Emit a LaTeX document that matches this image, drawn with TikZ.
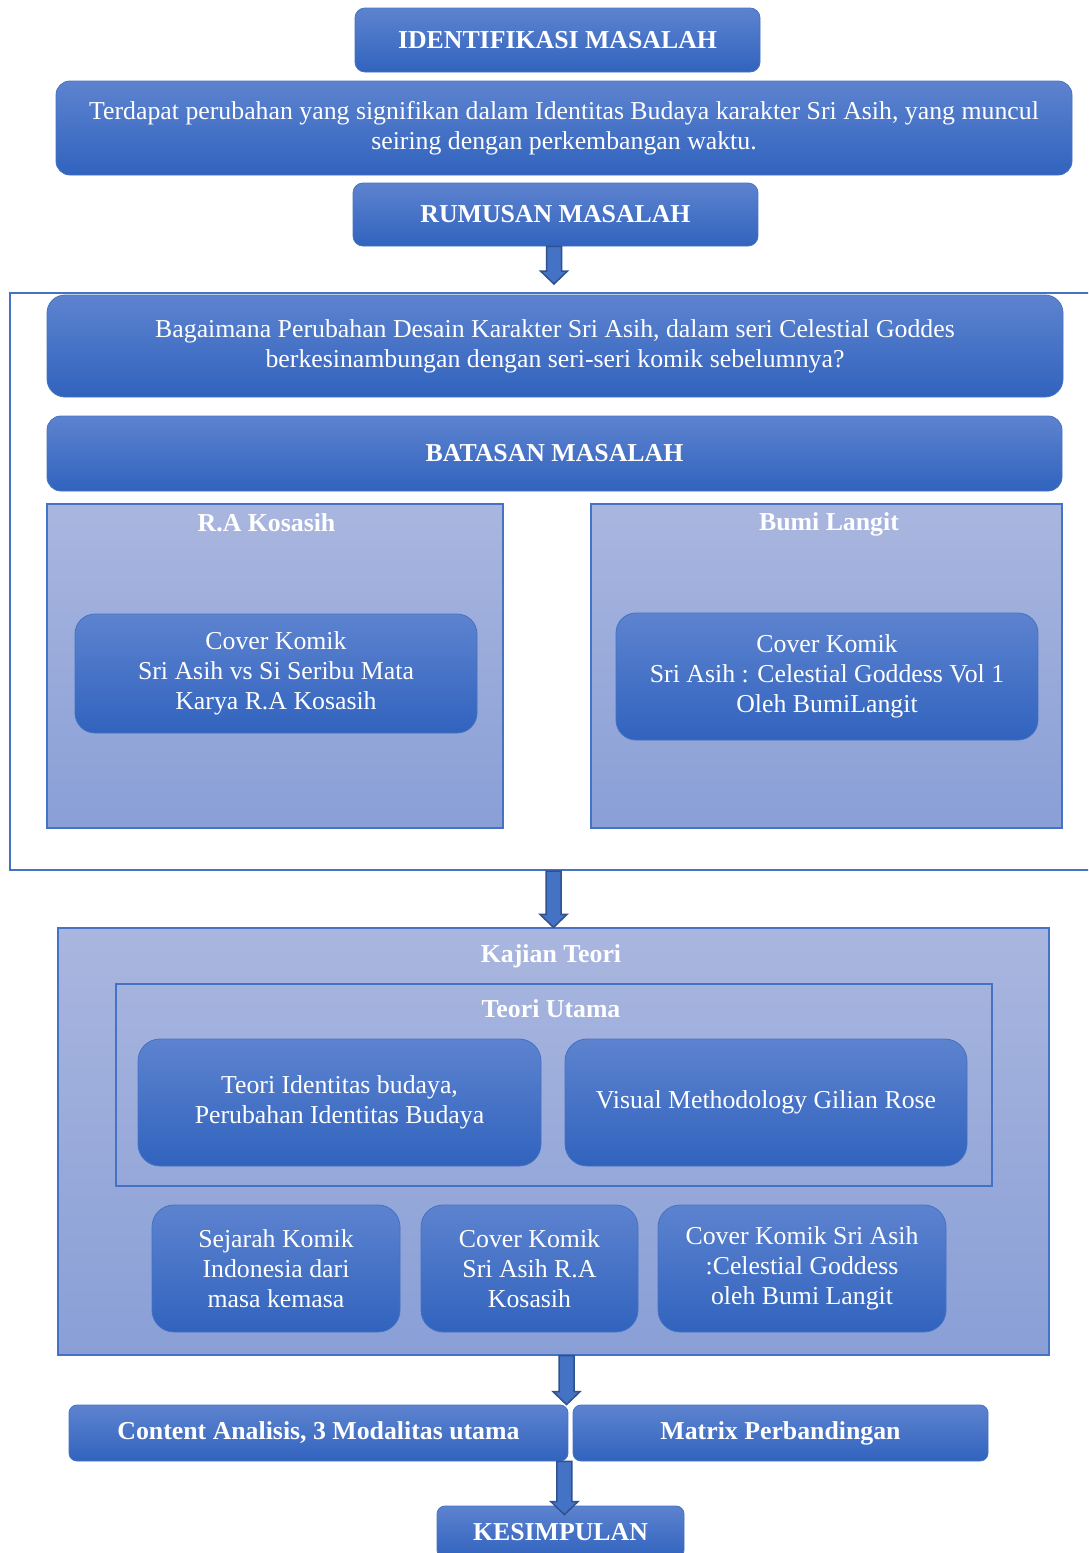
\documentclass[tikz,border=0pt]{standalone}
\usepackage{fontspec}
\setmainfont{Liberation Serif}
\usetikzlibrary{calc}
\definecolor{btop}{RGB}{93,131,207}
\definecolor{bbot}{RGB}{49,99,190}
\definecolor{bline}{RGB}{68,114,196}
\definecolor{ptop}{RGB}{169,182,223}
\definecolor{pbot}{RGB}{137,159,214}
\definecolor{afill}{RGB}{68,114,196}
\definecolor{aline}{RGB}{47,82,143}
\tikzset{
  txt/.style={font=\fontsize{25.8}{30}\selectfont, text=white, align=center},
  bx/.style={txt, rounded corners=#1, top color=btop, bottom color=bbot, draw=bline, line width=0.8pt, inner sep=0pt},
  bx/.default=14pt,
  hd/.style={font=\fontsize{25.8}{30}\selectfont\bfseries},
  panel/.style={top color=ptop, bottom color=pbot, draw=bline, line width=1.2pt, inner sep=0pt},
  ttl/.style={font=\fontsize{25.8}{30}\selectfont\bfseries, text=white},
  frm/.style={draw=bline, line width=2pt, inner sep=0pt},
  barrow/.style={fill=afill, draw=aline, line width=1.5pt, line join=miter},
}
\newcommand\blockarrow[2]{%
  \draw[barrow] let \p1=(#1), \p2=(#2) in
    (\x1-7.5pt,\y1) -- (\x1+7.5pt,\y1) -- (\x1+7.5pt,\y2+13pt) -- (\x1+13.5pt,\y2+13pt)
    -- (\x1,\y2) -- (\x1-13.5pt,\y2+13pt) -- (\x1-7.5pt,\y2+13pt) -- cycle;}
\begin{document}
\begin{tikzpicture}[x=1pt,y=-1pt]
\path[use as bounding box, clip] (0,0) rectangle (1088,1553);
\fill[white] (0,0) rectangle (1088,1553);

\node[bx=10pt, hd, minimum width=405, minimum height=64] (idm) at (557.5,40) {IDENTIFIKASI MASALAH};
\node[bx, minimum width=1016, minimum height=94] (ter) at (564,128)
  {Terdapat perubahan yang signifikan dalam Identitas Budaya karakter Sri Asih, yang muncul\\seiring dengan perkembangan waktu.};
\node[bx=10pt, hd, minimum width=405, minimum height=63] (rum) at (555.5,214.5) {RUMUSAN MASALAH};

\node[frm, fill=white, minimum width=1090, minimum height=577] (frame) at (555,581.5) {};
\node[bx=18pt, minimum width=1016, minimum height=102] (bag) at (555,346)
  {Bagaimana Perubahan Desain Karakter Sri Asih, dalam seri Celestial Goddes\\berkesinambungan dengan seri-seri komik sebelumnya?};
\node[bx=14pt, hd, minimum width=1015, minimum height=75] (bat) at (554.5,453.5) {BATASAN MASALAH};

\node[panel, minimum width=456, minimum height=324] (pl) at (275,666) {};
\node[ttl] (plt) at (266.5,523) {R.A Kosasih};
\node[bx=20pt, minimum width=402, minimum height=119] (pli) at (276,673.5)
  {Cover Komik\\Sri Asih vs Si Seribu Mata\\Karya R.A Kosasih};
\node[panel, minimum width=471, minimum height=324] (pr) at (826.5,666) {};
\node[ttl] (prt) at (829,524) {Bumi Langit};
\node[bx=20pt, minimum width=422, minimum height=127] (pri) at (827,676.5)
  {Cover Komik\\Sri Asih : Celestial Goddess Vol 1\\Oleh BumiLangit};

\node[panel, minimum width=991, minimum height=427] (kaj) at (553.5,1141.5) {};
\node[ttl] (kajt) at (551,956) {Kajian Teori};
\node[frm, minimum width=876, minimum height=202] (utm) at (554,1085) {};
\node[ttl] (utmt) at (551,1009) {Teori Utama};
\node[bx=22pt, minimum width=403, minimum height=127] (tid) at (339.5,1102.5)
  {Teori Identitas budaya,\\Perubahan Identitas Budaya};
\node[bx=22pt, minimum width=402, minimum height=127] (vis) at (766,1102.5)
  {Visual Methodology Gilian Rose};
\node[bx=22pt, minimum width=248, minimum height=127] (sej) at (276,1268.5)
  {Sejarah Komik\\Indonesia dari\\masa kemasa};
\node[bx=22pt, minimum width=217, minimum height=127] (cra) at (529.5,1268.5)
  {Cover Komik\\Sri Asih R.A\\Kosasih};
\node[bx=22pt, minimum width=288, minimum height=127] (ccg) at (802,1268.5)
  {Cover Komik Sri Asih\\:Celestial Goddess\\oleh Bumi Langit};

\node[bx=8pt, hd, minimum width=499, minimum height=56] (con) at (318.5,1433) {Content Analisis, 3 Modalitas utama};
\node[bx=8pt, hd, minimum width=415, minimum height=56] (mat) at (780.5,1433) {Matrix Perbandingan};
\node[bx=8pt, hd, minimum width=247, minimum height=52] (kes) at (560.5,1532) {KESIMPULAN};

% connectors
\coordinate (a1s) at ($(rum.south)+(-1.5,0)$);
\coordinate (a1e) at (554,284);
\blockarrow{a1s}{a1e}
\coordinate (a2s) at (kaj.north |- frame.south);
\blockarrow{a2s}{kaj.north}
\coordinate (a3s) at ($(kaj.south)+(13,0)$);
\blockarrow{a3s}{a3s |- con.north}
\coordinate (a4s) at ($(con.south east)+(-4,0)$);
\coordinate (a4e) at ($(a4s |- kes.north)+(0,9)$);
\blockarrow{a4s}{a4e}
\end{tikzpicture}
\end{document}
